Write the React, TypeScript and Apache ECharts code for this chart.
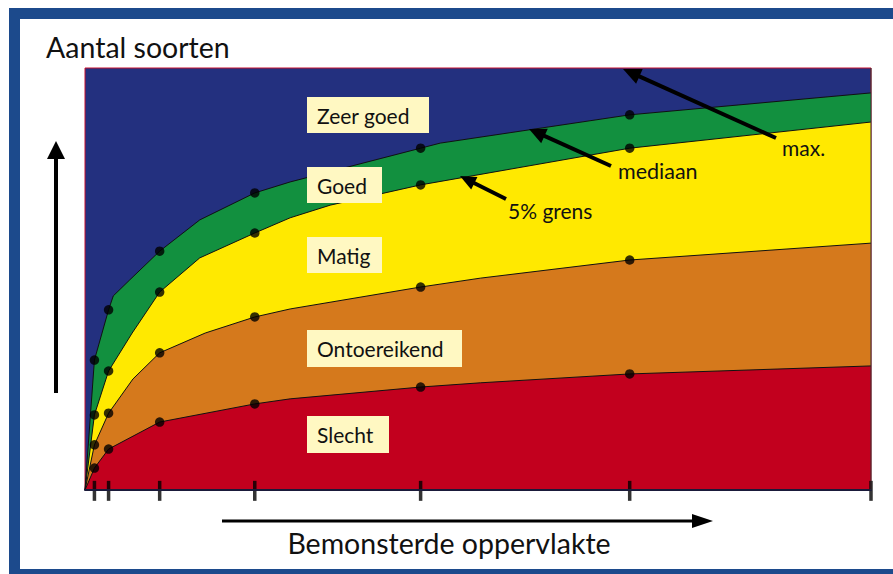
import React, { useEffect, useRef } from "react";
import * as echarts from "echarts";

// x positions of the sample sizes (ticks) on a 0-100 scale
const tickX = [1.2, 3.0, 9.5, 21.6, 42.7, 69.3, 100];
const dotX = [1.2, 3.0, 9.5, 21.6, 42.7, 69.3];

// boundary lines [x, y] (0-100 scale)
const slechtGrens: number[][] = [
  [0, 0], [1.2, 5.2], [3.0, 9.7], [9.5, 16.1], [21.6, 20.4], [26.1, 21.6],
  [42.7, 24.4], [50.3, 25.4], [69.3, 27.5], [100, 29.4],
];
const ontoereikendGrens: number[][] = [
  [0, 0], [1.2, 10.7], [3.0, 18.2], [6.1, 26.3], [9.5, 32.5], [15.3, 37.2],
  [21.6, 41.0], [26.1, 42.9], [42.7, 48.1], [50.3, 50.2], [69.3, 54.5], [100, 58.5],
];
const grens5: number[][] = [
  [0, 0], [1.2, 17.8], [3.0, 28.2], [6.0, 37.2], [9.5, 46.9], [14.6, 55.0],
  [21.6, 60.9], [26.1, 64.5], [31.2, 67.5], [42.7, 72.3], [69.3, 81.0], [100, 87.2],
];
const mediaan: number[][] = [
  [0, 0], [1.2, 30.8], [3.0, 42.7], [3.6, 46.0], [5.7, 49.8], [9.5, 56.6],
  [14.6, 64.0], [21.6, 70.4], [26.1, 73.0], [42.7, 81.0], [45.2, 82.2],
  [69.3, 88.9], [100, 94.1],
];

const klassen = ["Zeer goed", "Goed", "Matig", "Ontoereikend", "Slecht"];

const FONT = "Lato, 'Open Sans', sans-serif";

function arrow(tail: number[], tip: number[], len: number, hw: number, lw: number) {
  const dx = tip[0] - tail[0];
  const dy = tip[1] - tail[1];
  const d = Math.hypot(dx, dy);
  const ux = dx / d, uy = dy / d;
  const bx = tip[0] - ux * len, by = tip[1] - uy * len;
  const nx = -uy, ny = ux;
  return [
    {
      type: "line", z: 100,
      shape: { x1: tail[0], y1: tail[1], x2: bx + ux * 2, y2: by + uy * 2 },
      style: { stroke: "#000", lineWidth: lw },
    },
    {
      type: "polygon", z: 100,
      shape: { points: [tip, [bx + nx * hw, by + ny * hw], [bx - nx * hw, by - ny * hw]] },
      style: { fill: "#000" },
    },
  ];
}

function labelBox(text: string, x: number, y: number, w: number, h: number) {
  return [
    { type: "rect", z: 100, shape: { x, y, width: w, height: h }, style: { fill: "#fff8c2" } },
    {
      type: "text", z: 101, x: x + 10, y: y + h / 2,
      style: { text, font: `21px ${FONT}`, fill: "#111", verticalAlign: "middle", align: "left" },
    },
  ];
}

export default function App() {
  const ref = useRef<HTMLDivElement>(null);
  useEffect(() => {
    if (!ref.current) return;
    const chart = echarts.init(ref.current, null, { renderer: "svg" });
    const dots = (line: number[][]) => line.filter((p) => dotX.includes(p[0]));
    const area = (name: string, data: number[][], color: string) => ({
      name, type: "line", data, symbol: "none", z: 2,
      lineStyle: { color: "#111", width: 1 },
      areaStyle: { color, opacity: 1 },
    });
    const option: any = {
      animation: false,
      backgroundColor: "#fff",
      grid: {
        left: 85, top: 68, width: 786, height: 422, show: true,
        backgroundColor: "#23307f", borderColor: "#c8102e", borderWidth: 1,
      },
      xAxis: {
        type: "value", min: 0, max: 100, z: 10,
        splitLine: { show: false }, axisLabel: { show: false }, axisTick: { show: false },
        axisLine: { show: true, onZero: false, lineStyle: { color: "#1a1a3a", width: 2 } },
      },
      yAxis: { type: "value", min: 0, max: 100, show: false },
      series: [
        area("mediaan", mediaan, "#12903f"),
        area("5% grens", grens5, "#ffe900"),
        area("Ontoereikend", ontoereikendGrens, "#d5791c"),
        area("Slecht", slechtGrens, "#c2001e"),
        {
          type: "scatter", z: 5, symbolSize: 9.5, itemStyle: { color: "#000" },
          data: [...dots(mediaan), ...dots(grens5), ...dots(ontoereikendGrens), ...dots(slechtGrens)],
        },
        {
          type: "scatter", z: 6, symbol: "rect", symbolSize: [3.5, 20], clip: false,
          itemStyle: { color: "#000" },
          data: tickX.map((x) => [x, -0.2]),
        },
      ],
      graphic: [
        { type: "line", z: 50, shape: { x1: 871, y1: 68, x2: 871, y2: 490 }, style: { stroke: "#333", lineWidth: 1 } },
        {
          type: "rect", z: 100, shape: { x: 14.5, y: 13.5, width: 900, height: 561 },
          style: { fill: "none", stroke: "#1c4a8c", lineWidth: 11 },
        },
        {
          type: "text", z: 100, x: 46, y: 47,
          style: { text: "Aantal soorten", font: `28.5px ${FONT}`, fill: "#111", verticalAlign: "middle" },
        },
        {
          type: "text", z: 100, x: 449, y: 543,
          style: { text: "Bemonsterde oppervlakte", font: `28.5px ${FONT}`, fill: "#111", align: "center", verticalAlign: "middle" },
        },
        ...labelBox(klassen[0], 307, 97, 122, 36),
        ...labelBox(klassen[1], 307, 167, 75, 36),
        ...labelBox(klassen[2], 307, 237, 75, 36),
        ...labelBox(klassen[3], 307, 330, 155, 37),
        ...labelBox(klassen[4], 307, 416, 82, 37),
        {
          type: "text", z: 100, x: 782, y: 147,
          style: { text: "max.", font: `21px ${FONT}`, fill: "#111", verticalAlign: "middle" },
        },
        {
          type: "text", z: 100, x: 618, y: 171,
          style: { text: "mediaan", font: `21.5px ${FONT}`, fill: "#111", verticalAlign: "middle" },
        },
        {
          type: "text", z: 100, x: 508, y: 210,
          style: { text: "5% grens", font: `21px ${FONT}`, fill: "#111", verticalAlign: "middle" },
        },
        ...arrow([776, 138], [623, 69], 18, 8, 4),
        ...arrow([611, 166], [529, 129], 17, 8, 4),
        ...arrow([506, 199], [460, 176], 16, 7, 4),
        ...arrow([56, 393], [56, 141], 18, 9, 4),
        ...arrow([222, 521], [713, 521], 21, 7, 3),
      ],
    };
    chart.setOption(option);
    return () => chart.dispose();
  }, []);
  return (
    <div
      ref={ref}
      style={{ position: "fixed", left: 0, top: 0, width: 893, height: 574 }}
    />
  );
}
